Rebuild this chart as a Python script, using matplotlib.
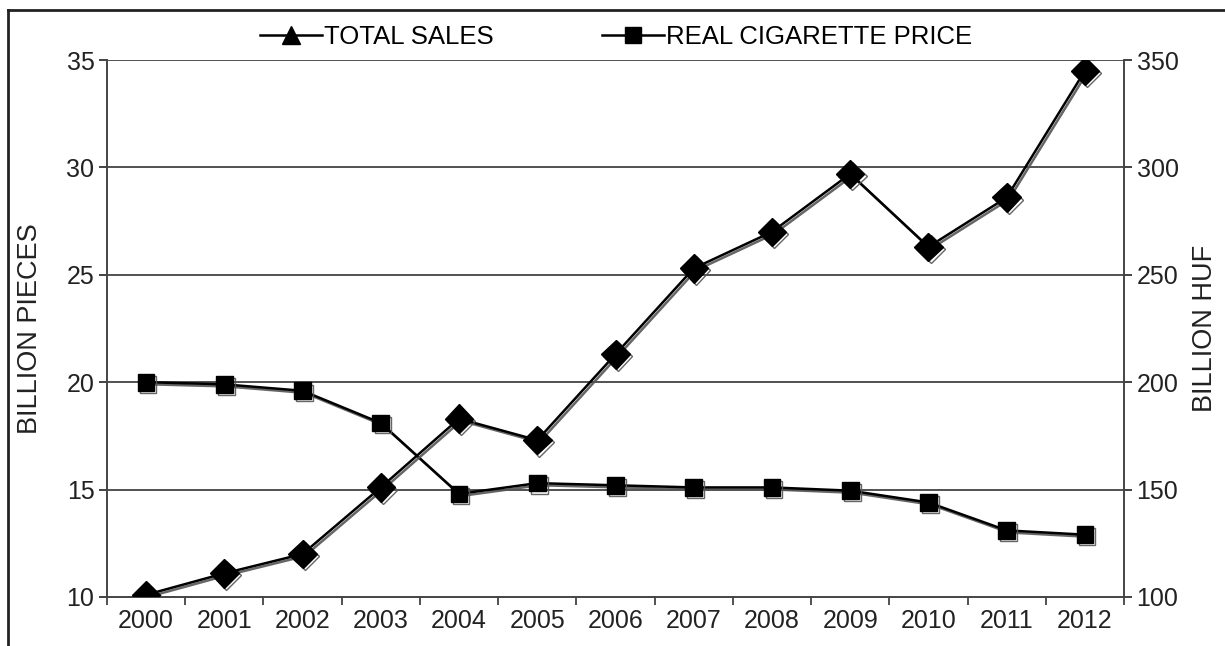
import matplotlib
matplotlib.use("Agg")
import matplotlib.pyplot as plt
from matplotlib.lines import Line2D
import matplotlib.patheffects as pe

plt.rcParams['font.family'] = ['Liberation Sans', 'DejaVu Sans']

years = ["2000", "2001", "2002", "2003", "2004", "2005", "2006",
         "2007", "2008", "2009", "2010", "2011", "2012"]
# Diamond series (right axis, billion HUF)
huf_series = [101, 111, 120, 151, 183, 173, 213, 253, 270, 297, 263, 286, 345]
# Square series (left axis, billion pieces)
pieces_series = [20.0, 19.9, 19.6, 18.1, 14.8, 15.3, 15.2, 15.1, 15.1, 14.95, 14.4, 13.1, 12.9]
legend_labels = ["TOTAL SALES", "REAL CIGARETTE PRICE"]
left_ticks = [10, 15, 20, 25, 30, 35]
right_ticks = [100, 150, 200, 250, 300, 350]

fig = plt.figure(figsize=(12.25, 6.46), dpi=100)
ax = fig.add_axes([0.0873, 0.0759, 0.8303, 0.8312])
ax2 = ax.twinx()

x = list(range(len(years)))
shadow = [pe.SimpleLineShadow(offset=(1.5, -1.5), shadow_color='#555555', alpha=0.9), pe.Normal()]

ax.plot(x, pieces_series, color='black', lw=1.8, marker='s', ms=12,
        markerfacecolor='black', markeredgecolor='black', path_effects=shadow, zorder=3)
ax2.plot(x, huf_series, color='black', lw=1.8, marker='D', ms=14.5,
         markerfacecolor='black', markeredgecolor='black', path_effects=shadow, zorder=3)

ax.set_xlim(-0.5, len(years) - 0.5)
ax.set_ylim(10, 35)
ax2.set_ylim(100, 350)
ax.set_yticks(left_ticks)
ax2.set_yticks(right_ticks)
ax.set_xticks(x)
ax.set_xticklabels(years)
ax.set_xticks([i - 0.5 for i in range(len(years) + 1)], minor=True)
ax.tick_params(axis='x', which='major', length=0, labelsize=18, pad=9, colors='#222222')
ax.tick_params(axis='x', which='minor', length=6, width=1.2, direction='out', color='#333333')
ax.tick_params(axis='y', length=6, width=1.2, direction='out', labelsize=18, colors='#222222', pad=3)
ax2.tick_params(axis='y', length=6, width=1.2, direction='out', labelsize=18, colors='#222222', pad=3)

for yv in left_ticks[1:]:
    ax.axhline(yv, color='#333333', lw=1.2, zorder=1)

for a in (ax, ax2):
    a.spines['top'].set_visible(False)
    for s in ('left', 'right', 'bottom'):
        a.spines[s].set_color('#444444')
        a.spines[s].set_linewidth(1.2)

ax.set_ylabel("BILLION PIECES", fontsize=19.5, color='#222222', labelpad=17)
ax2.set_ylabel("BILLION HUF", fontsize=19.5, color='#222222', labelpad=10)

handles = [Line2D([], [], color='black', lw=1.8, marker='^', ms=13),
           Line2D([], [], color='black', lw=1.8, marker='s', ms=12)]
fig.legend(handles, legend_labels, loc='center', bbox_to_anchor=(0.503, 0.942),
           ncol=2, frameon=False, fontsize=18.5, handlelength=2.4, handletextpad=0.1,
           columnspacing=4.2)

# outer frame (left and top edges visible)
fig.add_artist(Line2D([0.0065, 0.0065], [0, 0.985], transform=fig.transFigure, color='#222222', lw=2))
fig.add_artist(Line2D([0.0065, 1.0], [0.985, 0.985], transform=fig.transFigure, color='#222222', lw=2))

fig.savefig("out.png", dpi=100, facecolor='white')
